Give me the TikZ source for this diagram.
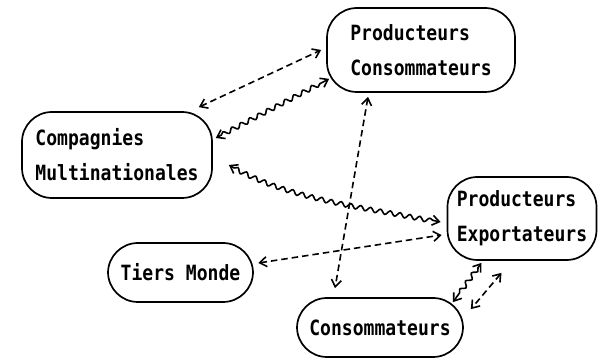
\documentclass[tikz,border=0pt]{standalone}
\usepackage{fontspec}
\setmonofont[FakeStretch=0.86]{DejaVu Sans Mono}
\usetikzlibrary{arrows.meta,decorations.pathmorphing,calc}
\begin{document}
\begin{tikzpicture}[x=1pt,y=-1pt,
  box/.style={draw,line width=1.7pt,rounded corners=30pt,align=left,inner sep=0pt,
    font=\ttfamily\bfseries\fontsize{21pt}{35pt}\selectfont},
  link/.style={line width=1.6pt,{Straight Barb[length=7pt,width=10pt]}-{Straight Barb[length=7pt,width=10pt]}},
  dlink/.style={link,dash pattern=on 6.5pt off 4pt},
  wlink/.style={link,decorate,decoration={snake,amplitude=2.2pt,segment length=10pt,pre length=6pt,post length=7pt}}]
\useasboundingbox (0,0) rectangle (598,358);
\node[box,minimum width=188pt,minimum height=84pt] (PC) at (421,50) {Producteurs\\Consommateurs};
\node[box,minimum width=190pt,minimum height=86pt] (CM) at (117,155) {Compagnies\\Multinationales};
\node[box,minimum width=145pt,minimum height=59pt] (TM) at (180.5,272.5) {Tiers Monde};
\node[box,minimum width=149pt,minimum height=83pt] (PE) at (522,218.5) {Producteurs\\Exportateurs};
\node[box,minimum width=166pt,minimum height=59pt] (C) at (380,327.5) {Consommateurs};
\draw[dlink] ($(CM.north east)+(-14,-4)$) -- ($(PC.west)+(-5,0)$);
\draw[wlink] ($(CM.east)+(3,-17)$) -- ($(PC.south west)+(3,-14)$);
\draw[wlink] ($(CM.east)+(16,10)$) .. controls +(60,35) and +(-70,-15) .. ($(PE.west)+(-6,3.5)$);
\draw[dlink] ($(TM.east)+(4.5,-9.5)$) -- ($(PE.west)+(-5,16.5)$);
\draw[dlink] ($(PC.south)+(-53,4)$) -- ($(C.north)+(-45,-9)$);
\draw[wlink] ($(PE.south)+(-40.5,2)$) -- ($(C.north east)+(-11,5)$);
\draw[dlink] ($(PE.south)+(-20.5,12)$) -- ($(C.north east)+(7,12)$);
\end{tikzpicture}
\end{document}
